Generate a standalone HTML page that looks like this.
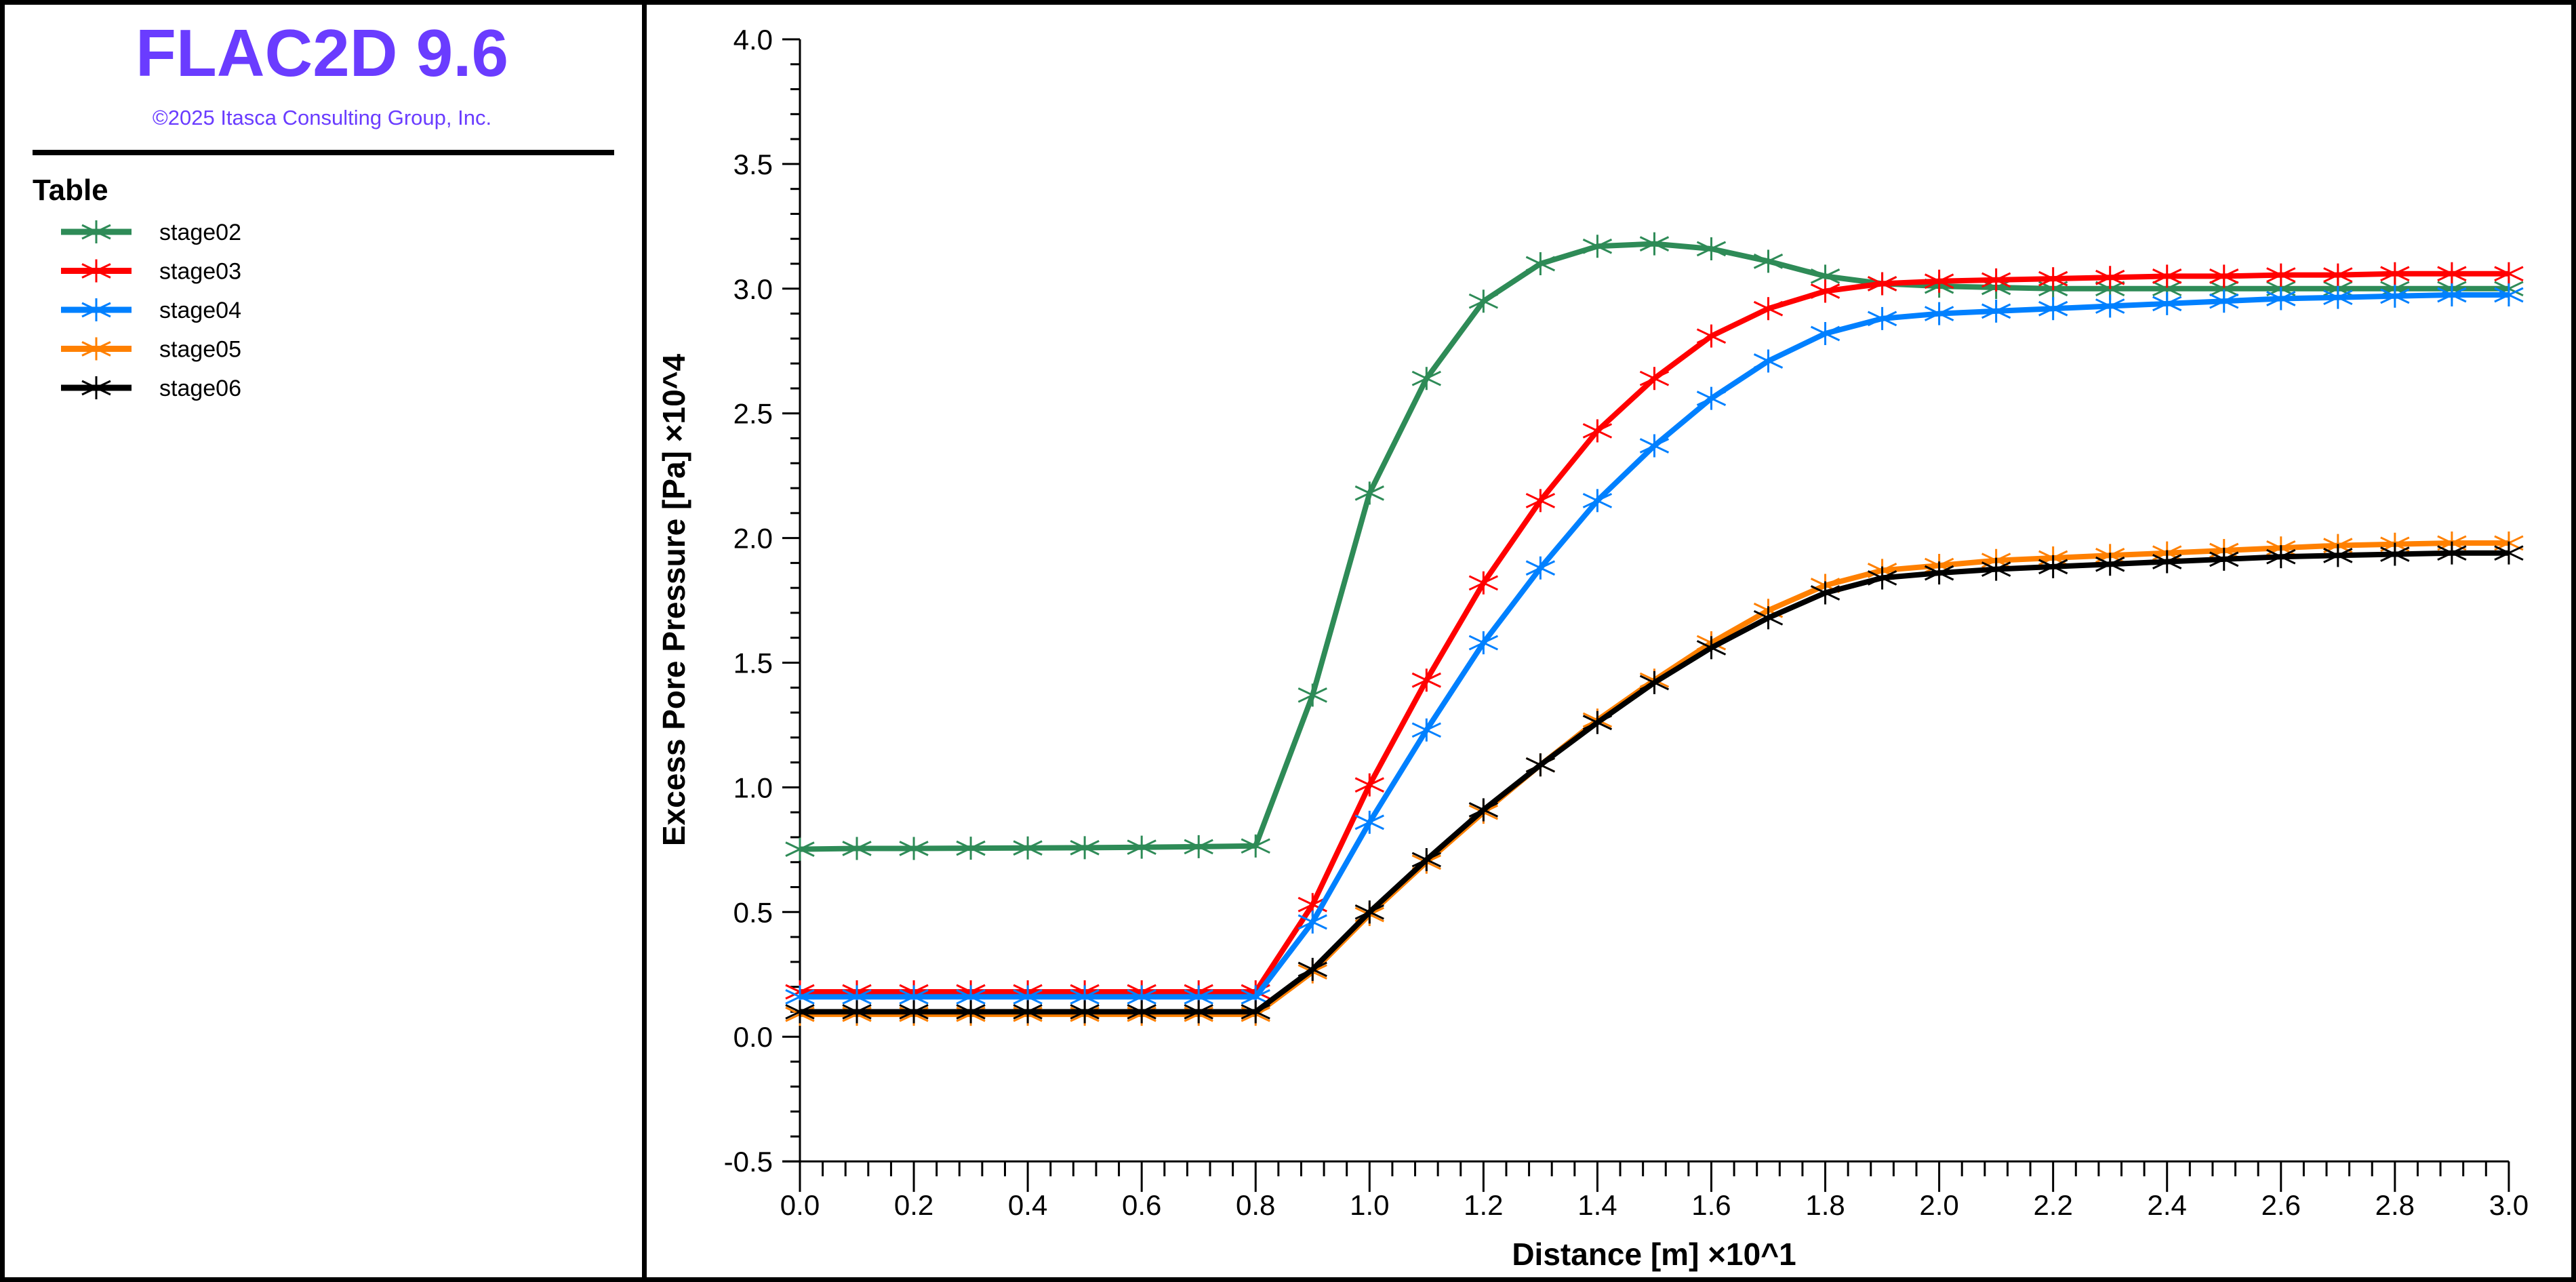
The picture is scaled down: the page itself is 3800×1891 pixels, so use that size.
<!DOCTYPE html>
<html><head><meta charset="utf-8"><style>
html,body{margin:0;padding:0;background:#fff}
svg{display:block}
text{font-family:"Liberation Sans",sans-serif}
</style></head><body>
<svg id="s" width="3800" height="1891" viewBox="0 0 3800 1891" xmlns="http://www.w3.org/2000/svg">
<rect x="0" y="0" width="3800" height="1891" fill="#fff"/>
<rect x="3.5" y="3.5" width="3793" height="1884" fill="none" stroke="#000" stroke-width="7"/>
<rect x="947" y="0" width="7" height="1891" fill="#000"/>
<text x="475" y="112" font-size="98" font-weight="bold" fill="#6a3cff" text-anchor="middle">FLAC2D 9.6</text>
<text x="475" y="184" font-size="31" fill="#6a3cff" text-anchor="middle">©2025 Itasca Consulting Group, Inc.</text>
<rect x="48" y="221" width="858" height="8" fill="#000"/>
<text x="48" y="295" font-size="44" font-weight="bold" fill="#000">Table</text>
<g id="leg"></g>
<g id="axes"></g>
<g id="plot"></g>
<text x="2440" y="1866" font-size="46" font-weight="bold" text-anchor="middle">Distance [m]  ×10^1</text>
<text transform="translate(1010,885) rotate(-90)" font-size="46" font-weight="bold" text-anchor="middle">Excess Pore Pressure [Pa]  ×10^4</text>
</svg>
<script>
const NS="http://www.w3.org/2000/svg";
function el(p,t,a,txt){const e=document.createElementNS(NS,t);for(const k in a)e.setAttribute(k,a[k]);if(txt!==undefined)e.textContent=txt;p.appendChild(e);return e;}
const X0=1180,XS=840.3,Y0=58,YS=367.8;
const px=x=>X0+x*XS, py=v=>Y0+(4-v)*YS;
const ax=document.getElementById('axes');
const YB=py(-0.5);
el(ax,'line',{x1:X0,y1:Y0,x2:X0,y2:YB,stroke:'#000','stroke-width':3});
el(ax,'line',{x1:X0-26,y1:YB,x2:px(3),y2:YB,stroke:'#000','stroke-width':3});
for(let i=0;i<=45;i++){const v=-0.5+i*0.1,y=py(v),maj=i%5==0;
 el(ax,'line',{x1:X0-(maj?26:14),y1:y,x2:X0,y2:y,stroke:'#000','stroke-width':3});
 if(maj)el(ax,'text',{x:X0-40,y:y+15,'font-size':42,'text-anchor':'end'},v.toFixed(1));}
for(let i=0;i<=75;i++){const x=i*0.04,xx=px(x),maj=i%5==0;
 el(ax,'line',{x1:xx,y1:YB,x2:xx,y2:YB+(maj?45:22),stroke:'#000','stroke-width':3});
 if(maj)el(ax,'text',{x:xx,y:1792,'font-size':42,'text-anchor':'middle'},x.toFixed(1));}
const flat=(v)=>Array(9).fill(v);
const S=[
['#2e8b57',[0.752,0.755,0.755,0.756,0.757,0.758,0.760,0.762,0.765,1.37,2.18,2.64,2.95,3.10,3.17,3.18,3.16,3.11,3.05,3.02,3.01,3.005,3.0,3.0,3.0,3.0,3.0,3.0,3.0,3.0,3.0]],
['#ff0000',flat(0.18).concat([0.53,1.01,1.43,1.82,2.15,2.43,2.64,2.81,2.92,2.99,3.02,3.03,3.035,3.04,3.045,3.05,3.05,3.055,3.055,3.06,3.06,3.06])],
['#0080ff',flat(0.16).concat([0.46,0.86,1.23,1.58,1.88,2.15,2.37,2.56,2.71,2.82,2.88,2.90,2.91,2.92,2.93,2.94,2.95,2.96,2.965,2.97,2.975,2.975])],
['#ff8000',flat(0.09).concat([0.26,0.49,0.70,0.90,1.09,1.27,1.43,1.58,1.71,1.81,1.87,1.89,1.91,1.92,1.93,1.94,1.95,1.96,1.97,1.975,1.98,1.98])],
['#000000',flat(0.10).concat([0.27,0.50,0.71,0.91,1.09,1.26,1.42,1.56,1.68,1.78,1.84,1.86,1.875,1.885,1.895,1.905,1.915,1.925,1.93,1.935,1.94,1.94])]
];
function marker(g,x,y,c){
 el(g,'path',{d:`M${x} ${y-17}V${y+17}M${x-21} ${y-10}L${x+21} ${y+10}M${x-21} ${y+10}L${x+21} ${y-10}`,stroke:c,'stroke-width':3,fill:'none'});}
const pl=document.getElementById('plot');
S.forEach(([c,d])=>{
 const pts=d.map((v,i)=>px(i*0.1).toFixed(1)+','+py(v).toFixed(1)).join(' ');
 el(pl,'polyline',{points:pts,fill:'none',stroke:c,'stroke-width':8,'stroke-linejoin':'round'});
 d.forEach((v,i)=>marker(pl,px(i*0.1),py(v),c));});
const lg=document.getElementById('leg');
const names=['stage02','stage03','stage04','stage05','stage06'];
S.forEach(([c],i)=>{const y=342+i*57.5;
 el(lg,'line',{x1:90,y1:y,x2:194,y2:y,stroke:c,'stroke-width':9});
 marker(lg,142,y,c);
 el(lg,'text',{x:235,y:y+12,'font-size':34},names[i]);});
</script>
</body></html>
